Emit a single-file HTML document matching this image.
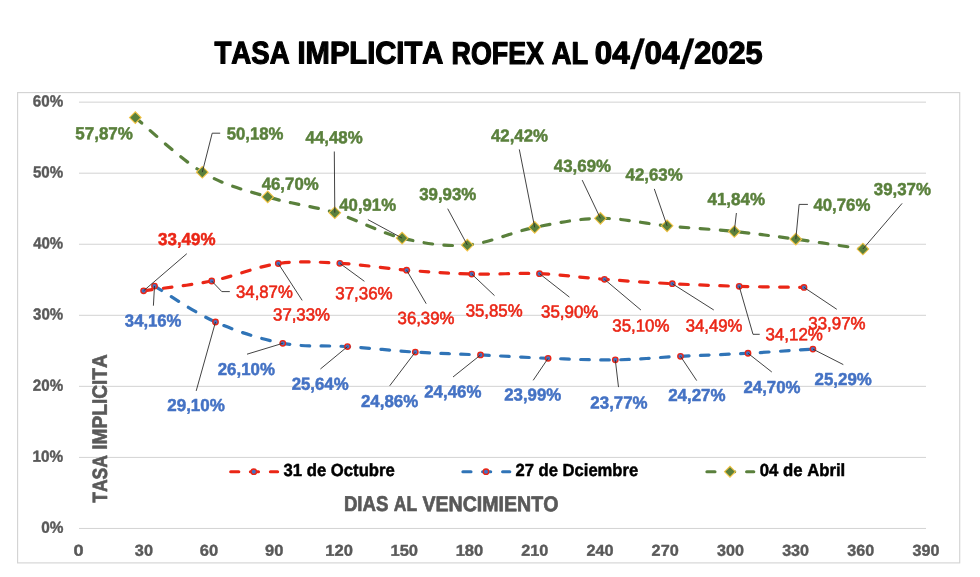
<!DOCTYPE html>
<html lang="es"><head><meta charset="utf-8"><title>Tasa implicita ROFEX</title>
<style>html,body{margin:0;padding:0;background:#fff}body{width:980px;height:577px;overflow:hidden}</style></head>
<body>
<svg width="980" height="577" viewBox="0 0 980 577" style="display:block;font-family:'Liberation Sans',sans-serif;font-kerning:none">
<rect width="980" height="577" fill="#fff"/>
<rect x="17.6" y="92.6" width="942.1" height="470.3" fill="#fff" stroke="#D4D4D4" stroke-width="1.15"/>
<line x1="79" y1="528.45" x2="926" y2="528.45" stroke="#D3D3D3" stroke-width="1"/>
<line x1="79" y1="457.40" x2="926" y2="457.40" stroke="#D3D3D3" stroke-width="1"/>
<line x1="79" y1="386.35" x2="926" y2="386.35" stroke="#D3D3D3" stroke-width="1"/>
<line x1="79" y1="315.30" x2="926" y2="315.30" stroke="#D3D3D3" stroke-width="1"/>
<line x1="79" y1="244.25" x2="926" y2="244.25" stroke="#D3D3D3" stroke-width="1"/>
<line x1="79" y1="173.20" x2="926" y2="173.20" stroke="#D3D3D3" stroke-width="1"/>
<line x1="79" y1="102.15" x2="926" y2="102.15" stroke="#D3D3D3" stroke-width="1"/>
<text transform="translate(41.18 532.74) rotate(0.03) scale(0.9553 1)" font-size="16.10" font-weight="700" fill="#595959" stroke="#595959" stroke-width="0.40" stroke-linejoin="round">0%</text>
<text transform="translate(32.42 461.69) rotate(0.03) scale(0.9555 1)" font-size="16.10" font-weight="700" fill="#595959" stroke="#595959" stroke-width="0.40" stroke-linejoin="round">10%</text>
<text transform="translate(32.86 390.64) rotate(0.03) scale(0.9417 1)" font-size="16.10" font-weight="700" fill="#595959" stroke="#595959" stroke-width="0.40" stroke-linejoin="round">20%</text>
<text transform="translate(33.04 319.59) rotate(0.03) scale(0.9361 1)" font-size="16.10" font-weight="700" fill="#595959" stroke="#595959" stroke-width="0.40" stroke-linejoin="round">30%</text>
<text transform="translate(33.16 248.54) rotate(0.03) scale(0.9325 1)" font-size="16.10" font-weight="700" fill="#595959" stroke="#595959" stroke-width="0.40" stroke-linejoin="round">40%</text>
<text transform="translate(32.92 177.49) rotate(0.03) scale(0.9399 1)" font-size="16.10" font-weight="700" fill="#595959" stroke="#595959" stroke-width="0.40" stroke-linejoin="round">50%</text>
<text transform="translate(32.83 106.44) rotate(0.03) scale(0.9427 1)" font-size="16.10" font-weight="700" fill="#595959" stroke="#595959" stroke-width="0.40" stroke-linejoin="round">60%</text>
<text transform="translate(73.56 555.74) rotate(0.03) scale(1.1485 1)" font-size="15.82" font-weight="700" fill="#595959" stroke="#595959" stroke-width="0.40" stroke-linejoin="round">0</text>
<text transform="translate(134.85 555.74) rotate(0.03) scale(1.0304 1)" font-size="15.82" font-weight="700" fill="#595959" stroke="#595959" stroke-width="0.40" stroke-linejoin="round">30</text>
<text transform="translate(199.79 555.74) rotate(0.03) scale(1.0437 1)" font-size="15.82" font-weight="700" fill="#595959" stroke="#595959" stroke-width="0.40" stroke-linejoin="round">60</text>
<text transform="translate(265.00 555.74) rotate(0.03) scale(1.0418 1)" font-size="15.82" font-weight="700" fill="#595959" stroke="#595959" stroke-width="0.40" stroke-linejoin="round">90</text>
<text transform="translate(325.30 555.74) rotate(0.03) scale(1.0458 1)" font-size="15.82" font-weight="700" fill="#595959" stroke="#595959" stroke-width="0.40" stroke-linejoin="round">120</text>
<text transform="translate(390.47 555.74) rotate(0.03) scale(1.0458 1)" font-size="15.82" font-weight="700" fill="#595959" stroke="#595959" stroke-width="0.40" stroke-linejoin="round">150</text>
<text transform="translate(455.64 555.74) rotate(0.03) scale(1.0458 1)" font-size="15.82" font-weight="700" fill="#595959" stroke="#595959" stroke-width="0.40" stroke-linejoin="round">180</text>
<text transform="translate(521.28 555.74) rotate(0.03) scale(1.0275 1)" font-size="15.82" font-weight="700" fill="#595959" stroke="#595959" stroke-width="0.40" stroke-linejoin="round">210</text>
<text transform="translate(586.45 555.74) rotate(0.03) scale(1.0275 1)" font-size="15.82" font-weight="700" fill="#595959" stroke="#595959" stroke-width="0.40" stroke-linejoin="round">240</text>
<text transform="translate(651.62 555.74) rotate(0.03) scale(1.0275 1)" font-size="15.82" font-weight="700" fill="#595959" stroke="#595959" stroke-width="0.40" stroke-linejoin="round">270</text>
<text transform="translate(716.98 555.74) rotate(0.03) scale(1.0201 1)" font-size="15.82" font-weight="700" fill="#595959" stroke="#595959" stroke-width="0.40" stroke-linejoin="round">300</text>
<text transform="translate(782.15 555.74) rotate(0.03) scale(1.0201 1)" font-size="15.82" font-weight="700" fill="#595959" stroke="#595959" stroke-width="0.40" stroke-linejoin="round">330</text>
<text transform="translate(847.32 555.74) rotate(0.03) scale(1.0201 1)" font-size="15.82" font-weight="700" fill="#595959" stroke="#595959" stroke-width="0.40" stroke-linejoin="round">360</text>
<text transform="translate(912.49 555.74) rotate(0.03) scale(1.0201 1)" font-size="15.82" font-weight="700" fill="#595959" stroke="#595959" stroke-width="0.40" stroke-linejoin="round">390</text>
<text transform="translate(214.42 63.50) rotate(0.03) scale(0.8797 1)" font-size="31.40" font-weight="700" fill="#000" stroke="#000" stroke-width="1.20" stroke-linejoin="round">TASA</text>
<text transform="translate(297.51 63.50) rotate(0.03) scale(0.9289 1)" font-size="31.40" font-weight="700" fill="#000" stroke="#000" stroke-width="1.20" stroke-linejoin="round">IMPLICITA</text>
<text transform="translate(451.62 63.50) rotate(0.03) scale(0.8544 1)" font-size="31.40" font-weight="700" fill="#000" stroke="#000" stroke-width="1.20" stroke-linejoin="round">ROFEX</text>
<text transform="translate(551.84 63.50) rotate(0.03) scale(0.8692 1)" font-size="31.40" font-weight="700" fill="#000" stroke="#000" stroke-width="1.20" stroke-linejoin="round">AL</text>
<text transform="translate(594.86 63.50) rotate(0.03) scale(0.9997 1)" font-size="31.40" font-weight="700" fill="#000" stroke="#000" stroke-width="1.20" stroke-linejoin="round">04</text>
<text transform="translate(644.46 63.50) rotate(0.03) scale(0.9997 1)" font-size="31.40" font-weight="700" fill="#000" stroke="#000" stroke-width="1.20" stroke-linejoin="round">04</text>
<text transform="translate(694.22 63.50) rotate(0.03) scale(0.9786 1)" font-size="31.40" font-weight="700" fill="#000" stroke="#000" stroke-width="1.20" stroke-linejoin="round">2025</text>
<text transform="translate(629.70 68.15) rotate(0.03) skewX(-7.8)" x="0" y="0" font-size="41.0" font-weight="700" fill="#000" stroke="#000" stroke-width="0.15">/</text>
<text transform="translate(679.30 68.15) rotate(0.03) skewX(-7.8)" x="0" y="0" font-size="41.0" font-weight="700" fill="#000" stroke="#000" stroke-width="0.15">/</text>
<text transform="translate(343.91 511.25) rotate(0.03) scale(0.8720 1)" font-size="21.37" font-weight="700" fill="#595959" stroke="#595959" stroke-width="0.70" stroke-linejoin="round">DIAS</text>
<text transform="translate(393.75 511.25) rotate(0.03) scale(0.8217 1)" font-size="21.37" font-weight="700" fill="#595959" stroke="#595959" stroke-width="0.70" stroke-linejoin="round">AL</text>
<text transform="translate(422.49 511.25) rotate(0.03) scale(0.9166 1)" font-size="21.37" font-weight="700" fill="#595959" stroke="#595959" stroke-width="0.70" stroke-linejoin="round">VENCIMIENTO</text>
<text transform="translate(107.0 502.9) rotate(-90) translate(0.10 -0.35) rotate(0.03) scale(0.8484 1)" font-size="20.64" font-weight="700" fill="#595959" stroke="#595959" stroke-width="0.70" stroke-linejoin="round">TASA</text>
<text transform="translate(107.0 502.9) rotate(-90) translate(53.20 -0.35) rotate(0.03) scale(0.9253 1)" font-size="20.64" font-weight="700" fill="#595959" stroke="#595959" stroke-width="0.70" stroke-linejoin="round">IMPLICITA</text>
<path d="M143.60 290.80 C154.95 289.17 189.25 285.55 211.70 281.00 C234.15 276.45 256.95 266.47 278.30 263.52 C299.65 260.57 318.42 262.19 339.80 263.31 C361.18 264.42 384.62 268.41 406.60 270.20 C428.58 271.99 449.55 273.46 471.70 274.04 C493.85 274.62 517.37 272.79 539.50 273.68 C561.63 274.57 582.37 277.69 604.50 279.36 C626.63 281.03 649.85 282.54 672.30 283.70 C694.75 284.86 717.25 285.71 739.20 286.33 C761.15 286.94 793.20 287.22 804.00 287.39" fill="none" stroke="#EA2616" stroke-width="3.2" stroke-linecap="round" stroke-dasharray="8.6 11.4"/>
<circle cx="143.60" cy="290.80" r="2.7" fill="#4472C4" stroke="#EA2616" stroke-width="1.4"/>
<circle cx="211.70" cy="281.00" r="2.7" fill="#4472C4" stroke="#EA2616" stroke-width="1.4"/>
<circle cx="278.30" cy="263.52" r="2.7" fill="#4472C4" stroke="#EA2616" stroke-width="1.4"/>
<circle cx="339.80" cy="263.31" r="2.7" fill="#4472C4" stroke="#EA2616" stroke-width="1.4"/>
<circle cx="406.60" cy="270.20" r="2.7" fill="#4472C4" stroke="#EA2616" stroke-width="1.4"/>
<circle cx="471.70" cy="274.04" r="2.7" fill="#4472C4" stroke="#EA2616" stroke-width="1.4"/>
<circle cx="539.50" cy="273.68" r="2.7" fill="#4472C4" stroke="#EA2616" stroke-width="1.4"/>
<circle cx="604.50" cy="279.36" r="2.7" fill="#4472C4" stroke="#EA2616" stroke-width="1.4"/>
<circle cx="672.30" cy="283.70" r="2.7" fill="#4472C4" stroke="#EA2616" stroke-width="1.4"/>
<circle cx="739.20" cy="286.33" r="2.7" fill="#4472C4" stroke="#EA2616" stroke-width="1.4"/>
<circle cx="804.00" cy="287.39" r="2.7" fill="#4472C4" stroke="#EA2616" stroke-width="1.4"/>
<path d="M154.50 286.04 C164.67 292.04 194.12 312.45 215.50 321.99 C236.88 331.54 260.80 339.21 282.80 343.31 C304.80 347.41 325.42 345.11 347.50 346.58 C369.58 348.05 393.13 350.72 415.30 352.12 C437.47 353.52 458.37 353.93 480.50 354.96 C502.63 355.99 525.63 357.48 548.10 358.30 C570.57 359.12 593.23 360.20 615.30 359.86 C637.37 359.53 658.38 357.41 680.50 356.31 C702.62 355.21 725.93 354.46 748.00 353.26 C770.07 352.05 802.08 349.76 812.90 349.06" fill="none" stroke="#3074B7" stroke-width="3.2" stroke-linecap="round" stroke-dasharray="8.6 11.4"/>
<circle cx="154.50" cy="286.04" r="2.7" fill="#4472C4" stroke="#EA2616" stroke-width="1.4"/>
<circle cx="215.50" cy="321.99" r="2.7" fill="#4472C4" stroke="#EA2616" stroke-width="1.4"/>
<circle cx="282.80" cy="343.31" r="2.7" fill="#4472C4" stroke="#EA2616" stroke-width="1.4"/>
<circle cx="347.50" cy="346.58" r="2.7" fill="#4472C4" stroke="#EA2616" stroke-width="1.4"/>
<circle cx="415.30" cy="352.12" r="2.7" fill="#4472C4" stroke="#EA2616" stroke-width="1.4"/>
<circle cx="480.50" cy="354.96" r="2.7" fill="#4472C4" stroke="#EA2616" stroke-width="1.4"/>
<circle cx="548.10" cy="358.30" r="2.7" fill="#4472C4" stroke="#EA2616" stroke-width="1.4"/>
<circle cx="615.30" cy="359.86" r="2.7" fill="#4472C4" stroke="#EA2616" stroke-width="1.4"/>
<circle cx="680.50" cy="356.31" r="2.7" fill="#4472C4" stroke="#EA2616" stroke-width="1.4"/>
<circle cx="748.00" cy="353.26" r="2.7" fill="#4472C4" stroke="#EA2616" stroke-width="1.4"/>
<circle cx="812.90" cy="349.06" r="2.7" fill="#4472C4" stroke="#EA2616" stroke-width="1.4"/>
<path d="M135.30 117.58 C146.47 126.69 180.23 158.99 202.30 172.22 C224.37 185.45 245.62 190.20 267.70 196.95 C289.78 203.70 312.40 205.86 334.80 212.72 C357.20 219.58 380.02 232.70 402.10 238.08 C424.18 243.47 445.20 246.84 467.30 245.05 C489.40 243.26 512.52 231.81 534.70 227.36 C556.88 222.90 578.33 218.58 600.40 218.33 C622.47 218.08 644.78 223.67 667.10 225.86 C689.42 228.05 712.85 229.26 734.30 231.48 C755.75 233.69 774.37 236.23 795.80 239.15 C817.23 242.08 851.72 247.38 862.90 249.03" fill="none" stroke="#5A803C" stroke-width="3.2" stroke-linecap="round" stroke-dasharray="8.6 11.4"/>
<path d="M129.50 117.58 L135.30 111.78 L141.10 117.58 L135.30 123.38Z" fill="#5A803C" stroke="#F2C344" stroke-width="1.1"/>
<path d="M196.50 172.22 L202.30 166.42 L208.10 172.22 L202.30 178.02Z" fill="#5A803C" stroke="#F2C344" stroke-width="1.1"/>
<path d="M261.90 196.95 L267.70 191.15 L273.50 196.95 L267.70 202.75Z" fill="#5A803C" stroke="#F2C344" stroke-width="1.1"/>
<path d="M329.00 212.72 L334.80 206.92 L340.60 212.72 L334.80 218.52Z" fill="#5A803C" stroke="#F2C344" stroke-width="1.1"/>
<path d="M396.30 238.08 L402.10 232.28 L407.90 238.08 L402.10 243.88Z" fill="#5A803C" stroke="#F2C344" stroke-width="1.1"/>
<path d="M461.50 245.05 L467.30 239.25 L473.10 245.05 L467.30 250.85Z" fill="#5A803C" stroke="#F2C344" stroke-width="1.1"/>
<path d="M528.90 227.36 L534.70 221.56 L540.50 227.36 L534.70 233.16Z" fill="#5A803C" stroke="#F2C344" stroke-width="1.1"/>
<path d="M594.60 218.33 L600.40 212.53 L606.20 218.33 L600.40 224.13Z" fill="#5A803C" stroke="#F2C344" stroke-width="1.1"/>
<path d="M661.30 225.86 L667.10 220.06 L672.90 225.86 L667.10 231.66Z" fill="#5A803C" stroke="#F2C344" stroke-width="1.1"/>
<path d="M728.50 231.48 L734.30 225.68 L740.10 231.48 L734.30 237.28Z" fill="#5A803C" stroke="#F2C344" stroke-width="1.1"/>
<path d="M790.00 239.15 L795.80 233.35 L801.60 239.15 L795.80 244.95Z" fill="#5A803C" stroke="#F2C344" stroke-width="1.1"/>
<path d="M857.10 249.03 L862.90 243.23 L868.70 249.03 L862.90 254.83Z" fill="#5A803C" stroke="#F2C344" stroke-width="1.1"/>
<path d="M202.3 172.2 L212.2 133.2 L220.2 133.2" fill="none" stroke="#2E2E2E" stroke-width="0.9"/>
<path d="M334.8 212.7 L334.3 151.5" fill="none" stroke="#2E2E2E" stroke-width="0.9"/>
<path d="M402.1 238.1 L367.9 219.6" fill="none" stroke="#2E2E2E" stroke-width="0.9"/>
<path d="M467.3 245.0 L447.7 208.7" fill="none" stroke="#2E2E2E" stroke-width="0.9"/>
<path d="M534.7 227.4 L519.3 149.4" fill="none" stroke="#2E2E2E" stroke-width="0.9"/>
<path d="M600.4 218.3 L582.2 180.1" fill="none" stroke="#2E2E2E" stroke-width="0.9"/>
<path d="M667.1 225.9 L654.3 188.9" fill="none" stroke="#2E2E2E" stroke-width="0.9"/>
<path d="M734.3 231.5 L736.4 213.0" fill="none" stroke="#2E2E2E" stroke-width="0.9"/>
<path d="M795.8 239.2 L799.1 204.4 L807.9 204.4" fill="none" stroke="#2E2E2E" stroke-width="0.9"/>
<path d="M862.9 249.0 L902.1 203.4" fill="none" stroke="#2E2E2E" stroke-width="0.9"/>
<path d="M143.6 290.8 L186.8 253.7" fill="none" stroke="#2E2E2E" stroke-width="0.9"/>
<path d="M211.7 281.0 L221.8 291.6 L229.8 291.6" fill="none" stroke="#2E2E2E" stroke-width="0.9"/>
<path d="M278.3 263.5 L302.2 300.4" fill="none" stroke="#2E2E2E" stroke-width="0.9"/>
<path d="M339.8 263.3 L364.4 281.3" fill="none" stroke="#2E2E2E" stroke-width="0.9"/>
<path d="M406.6 270.2 L426.2 303.7" fill="none" stroke="#2E2E2E" stroke-width="0.9"/>
<path d="M471.7 274.0 L494.5 295.6" fill="none" stroke="#2E2E2E" stroke-width="0.9"/>
<path d="M539.5 273.7 L569.4 297.1" fill="none" stroke="#2E2E2E" stroke-width="0.9"/>
<path d="M604.5 279.4 L640.9 310.0" fill="none" stroke="#2E2E2E" stroke-width="0.9"/>
<path d="M672.3 283.7 L713.8 310.0" fill="none" stroke="#2E2E2E" stroke-width="0.9"/>
<path d="M739.2 286.3 L753.0 334.3 L759.7 334.3" fill="none" stroke="#2E2E2E" stroke-width="0.9"/>
<path d="M804.0 287.4 L836.8 309.3" fill="none" stroke="#2E2E2E" stroke-width="0.9"/>
<path d="M154.5 286.0 L153.4 305.7" fill="none" stroke="#2E2E2E" stroke-width="0.9"/>
<path d="M215.5 322.0 L196.2 390.9" fill="none" stroke="#2E2E2E" stroke-width="0.9"/>
<path d="M282.8 343.3 L247.0 354.2" fill="none" stroke="#2E2E2E" stroke-width="0.9"/>
<path d="M347.5 346.6 L320.4 369.0" fill="none" stroke="#2E2E2E" stroke-width="0.9"/>
<path d="M415.3 352.1 L389.7 385.8" fill="none" stroke="#2E2E2E" stroke-width="0.9"/>
<path d="M480.5 355.0 L453.0 377.0" fill="none" stroke="#2E2E2E" stroke-width="0.9"/>
<path d="M548.1 358.3 L533.2 380.3" fill="none" stroke="#2E2E2E" stroke-width="0.9"/>
<path d="M615.3 359.9 L618.5 387.1" fill="none" stroke="#2E2E2E" stroke-width="0.9"/>
<path d="M680.5 356.3 L696.7 380.6" fill="none" stroke="#2E2E2E" stroke-width="0.9"/>
<path d="M748.0 353.3 L771.8 372.0" fill="none" stroke="#2E2E2E" stroke-width="0.9"/>
<path d="M812.9 349.1 L843.3 364.6" fill="none" stroke="#2E2E2E" stroke-width="0.9"/>
<text transform="translate(75.32 139.28) rotate(0.03) scale(0.9772 1)" font-size="17.37" font-weight="700" fill="#5A803C" stroke="#5A803C" stroke-width="0.50" stroke-linejoin="round">57,87%</text>
<text transform="translate(226.73 139.38) rotate(0.03) scale(0.9636 1)" font-size="17.37" font-weight="700" fill="#5A803C" stroke="#5A803C" stroke-width="0.50" stroke-linejoin="round">50,18%</text>
<text transform="translate(261.69 189.68) rotate(0.03) scale(0.9676 1)" font-size="17.37" font-weight="700" fill="#5A803C" stroke="#5A803C" stroke-width="0.50" stroke-linejoin="round">46,70%</text>
<text transform="translate(305.59 143.18) rotate(0.03) scale(0.9693 1)" font-size="17.37" font-weight="700" fill="#5A803C" stroke="#5A803C" stroke-width="0.50" stroke-linejoin="round">44,48%</text>
<text transform="translate(339.29 210.78) rotate(0.03) scale(0.9642 1)" font-size="17.37" font-weight="700" fill="#5A803C" stroke="#5A803C" stroke-width="0.50" stroke-linejoin="round">40,91%</text>
<text transform="translate(419.16 199.88) rotate(0.03) scale(0.9716 1)" font-size="17.37" font-weight="700" fill="#5A803C" stroke="#5A803C" stroke-width="0.50" stroke-linejoin="round">39,93%</text>
<text transform="translate(490.99 141.38) rotate(0.03) scale(0.9676 1)" font-size="17.37" font-weight="700" fill="#5A803C" stroke="#5A803C" stroke-width="0.50" stroke-linejoin="round">42,42%</text>
<text transform="translate(553.79 171.78) rotate(0.03) scale(0.9727 1)" font-size="17.37" font-weight="700" fill="#5A803C" stroke="#5A803C" stroke-width="0.50" stroke-linejoin="round">43,69%</text>
<text transform="translate(625.59 180.58) rotate(0.03) scale(0.9693 1)" font-size="17.37" font-weight="700" fill="#5A803C" stroke="#5A803C" stroke-width="0.50" stroke-linejoin="round">42,63%</text>
<text transform="translate(707.49 204.98) rotate(0.03) scale(0.9778 1)" font-size="17.37" font-weight="700" fill="#5A803C" stroke="#5A803C" stroke-width="0.50" stroke-linejoin="round">41,84%</text>
<text transform="translate(813.39 210.68) rotate(0.03) scale(0.9676 1)" font-size="17.37" font-weight="700" fill="#5A803C" stroke="#5A803C" stroke-width="0.50" stroke-linejoin="round">40,76%</text>
<text transform="translate(873.76 195.08) rotate(0.03) scale(0.9716 1)" font-size="17.37" font-weight="700" fill="#5A803C" stroke="#5A803C" stroke-width="0.50" stroke-linejoin="round">39,37%</text>
<text transform="translate(236.05 297.82) rotate(0.03) scale(0.9556 1)" font-size="17.51" font-weight="400" fill="#EA2616" stroke="#EA2616" stroke-width="0.60" stroke-linejoin="round">34,87%</text>
<text transform="translate(273.05 320.42) rotate(0.03) scale(0.9590 1)" font-size="17.51" font-weight="400" fill="#EA2616" stroke="#EA2616" stroke-width="0.60" stroke-linejoin="round">37,33%</text>
<text transform="translate(335.24 299.32) rotate(0.03) scale(0.9675 1)" font-size="17.51" font-weight="400" fill="#EA2616" stroke="#EA2616" stroke-width="0.60" stroke-linejoin="round">37,36%</text>
<text transform="translate(397.55 323.92) rotate(0.03) scale(0.9590 1)" font-size="17.51" font-weight="400" fill="#EA2616" stroke="#EA2616" stroke-width="0.60" stroke-linejoin="round">36,39%</text>
<text transform="translate(465.65 316.42) rotate(0.03) scale(0.9590 1)" font-size="17.51" font-weight="400" fill="#EA2616" stroke="#EA2616" stroke-width="0.60" stroke-linejoin="round">35,85%</text>
<text transform="translate(541.05 317.62) rotate(0.03) scale(0.9658 1)" font-size="17.51" font-weight="400" fill="#EA2616" stroke="#EA2616" stroke-width="0.60" stroke-linejoin="round">35,90%</text>
<text transform="translate(612.25 331.52) rotate(0.03) scale(0.9641 1)" font-size="17.51" font-weight="400" fill="#EA2616" stroke="#EA2616" stroke-width="0.60" stroke-linejoin="round">35,10%</text>
<text transform="translate(685.65 331.52) rotate(0.03) scale(0.9556 1)" font-size="17.51" font-weight="400" fill="#EA2616" stroke="#EA2616" stroke-width="0.60" stroke-linejoin="round">34,49%</text>
<text transform="translate(765.44 340.32) rotate(0.03) scale(0.9675 1)" font-size="17.51" font-weight="400" fill="#EA2616" stroke="#EA2616" stroke-width="0.60" stroke-linejoin="round">34,12%</text>
<text transform="translate(808.35 329.32) rotate(0.03) scale(0.9641 1)" font-size="17.51" font-weight="400" fill="#EA2616" stroke="#EA2616" stroke-width="0.60" stroke-linejoin="round">33,97%</text>
<text transform="translate(158.06 245.08) rotate(0.03) scale(0.9750 1)" font-size="17.37" font-weight="700" fill="#EA2616" stroke="#EA2616" stroke-width="0.50" stroke-linejoin="round">33,49%</text>
<text transform="translate(124.86 326.48) rotate(0.03) scale(0.9613 1)" font-size="17.37" font-weight="700" fill="#4472C4" stroke="#4472C4" stroke-width="0.50" stroke-linejoin="round">34,16%</text>
<text transform="translate(167.26 410.98) rotate(0.03) scale(0.9784 1)" font-size="17.37" font-weight="700" fill="#4472C4" stroke="#4472C4" stroke-width="0.50" stroke-linejoin="round">29,10%</text>
<text transform="translate(217.76 374.98) rotate(0.03) scale(0.9698 1)" font-size="17.37" font-weight="700" fill="#4472C4" stroke="#4472C4" stroke-width="0.50" stroke-linejoin="round">26,10%</text>
<text transform="translate(291.66 389.78) rotate(0.03) scale(0.9681 1)" font-size="17.37" font-weight="700" fill="#4472C4" stroke="#4472C4" stroke-width="0.50" stroke-linejoin="round">25,64%</text>
<text transform="translate(360.96 406.88) rotate(0.03) scale(0.9732 1)" font-size="17.37" font-weight="700" fill="#4472C4" stroke="#4472C4" stroke-width="0.50" stroke-linejoin="round">24,86%</text>
<text transform="translate(424.26 397.38) rotate(0.03) scale(0.9698 1)" font-size="17.37" font-weight="700" fill="#4472C4" stroke="#4472C4" stroke-width="0.50" stroke-linejoin="round">24,46%</text>
<text transform="translate(504.16 400.38) rotate(0.03) scale(0.9698 1)" font-size="17.37" font-weight="700" fill="#4472C4" stroke="#4472C4" stroke-width="0.50" stroke-linejoin="round">23,99%</text>
<text transform="translate(590.36 408.38) rotate(0.03) scale(0.9732 1)" font-size="17.37" font-weight="700" fill="#4472C4" stroke="#4472C4" stroke-width="0.50" stroke-linejoin="round">23,77%</text>
<text transform="translate(668.16 400.88) rotate(0.03) scale(0.9750 1)" font-size="17.37" font-weight="700" fill="#4472C4" stroke="#4472C4" stroke-width="0.50" stroke-linejoin="round">24,27%</text>
<text transform="translate(743.46 392.98) rotate(0.03) scale(0.9681 1)" font-size="17.37" font-weight="700" fill="#4472C4" stroke="#4472C4" stroke-width="0.50" stroke-linejoin="round">24,70%</text>
<text transform="translate(814.56 384.88) rotate(0.03) scale(0.9732 1)" font-size="17.37" font-weight="700" fill="#4472C4" stroke="#4472C4" stroke-width="0.50" stroke-linejoin="round">25,29%</text>
<path d="M230.7 471.7 H238.8 M250.4 471.7 H258.5 M270.4 471.7 H277.6" fill="none" stroke="#EA2616" stroke-width="3.1" stroke-linecap="round"/>
<circle cx="253.80" cy="471.70" r="2.7" fill="#4472C4" stroke="#EA2616" stroke-width="1.4"/>
<text transform="translate(283.56 475.97) rotate(0.03) scale(0.9527 1)" font-size="17.51" font-weight="700" fill="#000" stroke="#000" stroke-width="0.50" stroke-linejoin="round">31 de Octubre</text>
<path d="M462.9 471.7 H471.0 M482.6 471.7 H490.7 M502.6 471.7 H509.8" fill="none" stroke="#3074B7" stroke-width="3.1" stroke-linecap="round"/>
<circle cx="486.00" cy="471.70" r="2.7" fill="#4472C4" stroke="#EA2616" stroke-width="1.4"/>
<text transform="translate(515.56 475.97) rotate(0.03) scale(0.9482 1)" font-size="17.51" font-weight="700" fill="#000" stroke="#000" stroke-width="0.50" stroke-linejoin="round">27 de Dciembre</text>
<path d="M706.9 471.7 H715.0 M726.6 471.7 H734.7 M746.6 471.7 H753.8" fill="none" stroke="#5A803C" stroke-width="3.1" stroke-linecap="round"/>
<path d="M724.60 471.70 L730.00 466.30 L735.40 471.70 L730.00 477.10Z" fill="#5A803C" stroke="#F2C344" stroke-width="1.1"/>
<text transform="translate(759.78 475.97) rotate(0.03) scale(0.9556 1)" font-size="17.51" font-weight="700" fill="#000" stroke="#000" stroke-width="0.50" stroke-linejoin="round">04 de Abril</text>
</svg>
</body></html>
